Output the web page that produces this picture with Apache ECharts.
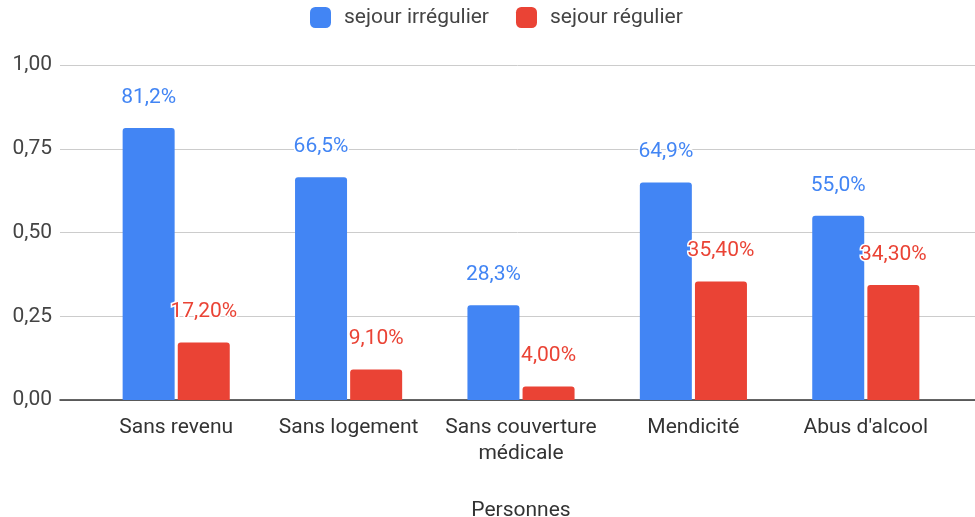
<!DOCTYPE html>
<html>
<head>
<meta charset="utf-8">
<script src="https://cdn.jsdelivr.net/npm/echarts@6/dist/echarts.min.js"></script>
<style>html,body{margin:0;padding:0;background:#fff;}#c{width:975px;height:517px;}</style>
</head>
<body>
<div id="c"></div>
<script>
const categories = ['Sans revenu', 'Sans logement', 'Sans couverture\nmédicale', 'Mendicité', "Abus d'alcool"];
const seriesNames = ['sejour irrégulier', 'sejour régulier'];
const irregulier = [0.812, 0.665, 0.283, 0.649, 0.550];
const regulier = [0.172, 0.091, 0.040, 0.354, 0.343];
const yTicks = [0, 0.25, 0.5, 0.75, 1];
const xAxisTitle = 'Personnes';

const FONT = 'Roboto';
const BLUE = '#4285F4', RED = '#EA4335';
const chart = echarts.init(document.getElementById('c'), null, {renderer: 'canvas'});
const gTop = 65, gBottom = 117;
chart.setOption({
  animation: false,
  textStyle: {fontFamily: FONT},
  legend: {
    top: 2, left: 305,
    itemWidth: 21, itemHeight: 21, itemGap: 27,
    icon: 'roundRect',
    textStyle: {fontFamily: FONT, fontSize: 21, color: '#444', padding: [0, 0, 0, 8]},
    data: seriesNames
  },
  grid: [
    {left: 60, right: 0, top: gTop, bottom: gBottom, containLabel: false, outerBoundsMode: 'none'},
    {left: 90, right: 23, top: gTop, bottom: gBottom, containLabel: false, outerBoundsMode: 'none'}
  ],
  xAxis: [
    {gridIndex: 0, type: 'category', data: categories, axisLine: {show: true, lineStyle: {color: '#333', width: 1.5}},
     axisTick: {show: false}, axisLabel: {show: false}, splitLine: {show: false}},
    {gridIndex: 1, type: 'category', data: categories,
     axisLine: {show: false}, axisTick: {show: false},
     axisLabel: {fontFamily: FONT, fontSize: 21, color: '#333', margin: 15, lineHeight: 26, interval: 0},
     name: xAxisTitle, nameLocation: 'middle', nameGap: 100,
     nameTextStyle: {fontFamily: FONT, fontSize: 21, color: '#333'}}
  ],
  yAxis: [
    {gridIndex: 0, type: 'value', min: yTicks[0], max: yTicks[yTicks.length - 1], interval: yTicks[1] - yTicks[0],
     axisLine: {show: false}, axisTick: {show: false},
     axisLabel: {fontFamily: FONT, fontSize: 21, color: '#444', margin: 8,
       formatter: v => v.toFixed(2).replace('.', ',')},
     splitLine: {lineStyle: {color: '#cccccc', width: 1}}},
    {gridIndex: 1, type: 'value', min: yTicks[0], max: yTicks[yTicks.length - 1], interval: yTicks[1] - yTicks[0],
     axisLine: {show: false}, axisTick: {show: false}, axisLabel: {show: false}, splitLine: {show: false}}
  ],
  series: [
    {
      name: seriesNames[0], type: 'bar', xAxisIndex: 1, yAxisIndex: 1,
      data: irregulier, barWidth: 52, barGap: '6%',
      itemStyle: {color: BLUE, borderRadius: [3, 3, 0, 0]},
      label: {show: true, position: 'top', distance: 20, fontFamily: FONT, fontSize: 21, color: BLUE,
        textBorderColor: '#fff', textBorderWidth: 3,
        formatter: p => (p.value * 100).toFixed(1).replace('.', ',') + '%'}
    },
    {
      name: seriesNames[1], type: 'bar', xAxisIndex: 1, yAxisIndex: 1,
      data: regulier, barWidth: 52,
      itemStyle: {color: RED, borderRadius: [3, 3, 0, 0]},
      label: {show: true, position: 'top', distance: 20, fontFamily: FONT, fontSize: 21, color: RED,
        textBorderColor: '#fff', textBorderWidth: 3,
        formatter: p => (p.value * 100).toFixed(2).replace('.', ',') + '%'}
    }
  ]
});
</script>
</body>
</html>
